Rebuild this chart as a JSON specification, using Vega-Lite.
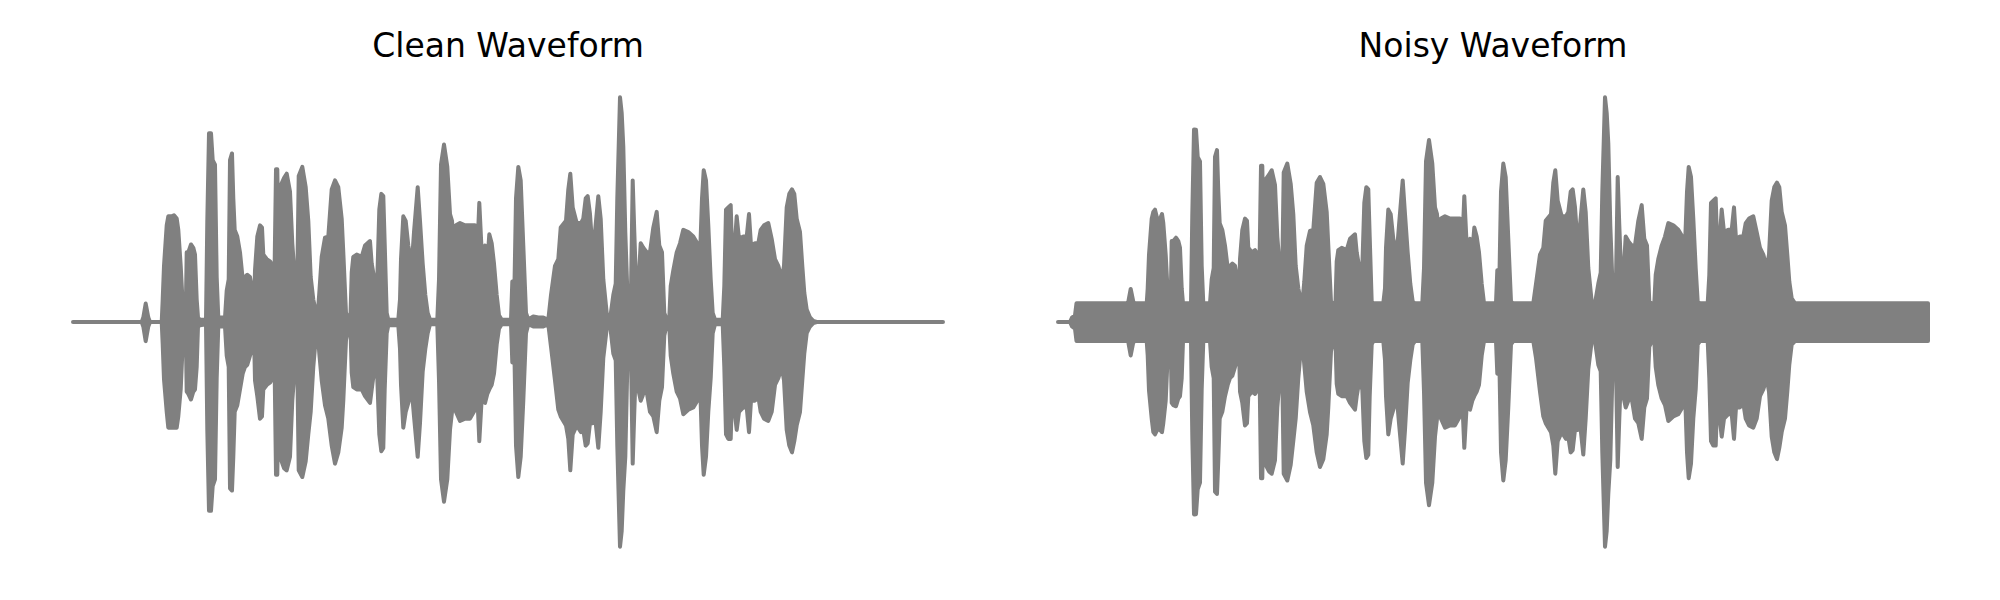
{
  "$schema": "https://vega.github.io/schema/vega-lite/v6.json",
  "background": "white",
  "padding": {"left": 71, "top": 31, "right": 0, "bottom": 0},
  "spacing": 111,
  "config": {
    "view": {"stroke": null},
    "title": {"font": "DejaVu Sans", "fontSize": 33, "fontWeight": "normal", "color": "#000000", "baseline": "alphabetic", "offset": 22}
  },
  "datasets": {
    "clean": [
      {"t":0,"hi":0,"lo":0},{"t":68.7,"hi":0,"lo":0},{"t":70.3,"hi":0.02,"lo":-0.02},{"t":72.7,"hi":0.082,"lo":-0.085},{"t":75.3,"hi":0.02,"lo":-0.02},{"t":77,"hi":0,"lo":0},{"t":88.7,"hi":0,"lo":0},
      {"t":89.7,"hi":0.1,"lo":-0.1},{"t":91,"hi":0.25,"lo":-0.255},{"t":93.7,"hi":0.43,"lo":-0.4},{"t":95.3,"hi":0.47,"lo":-0.47},{"t":98.7,"hi":0.47,"lo":-0.47},{"t":101,"hi":0.475,"lo":-0.47},{"t":103.7,"hi":0.46,"lo":-0.47},{"t":105.3,"hi":0.41,"lo":-0.42},{"t":107.7,"hi":0.25,"lo":-0.3},{"t":109.7,"hi":0.08,"lo":-0.1},
      {"t":111,"hi":0.02,"lo":-0.025},{"t":112.7,"hi":0.02,"lo":-0.02},{"t":113.7,"hi":0.31,"lo":-0.31},{"t":115.3,"hi":0.31,"lo":-0.32},{"t":118,"hi":0.345,"lo":-0.345},{"t":120.3,"hi":0.33,"lo":-0.31},{"t":122,"hi":0.3,"lo":-0.3},{"t":123.7,"hi":0.1,"lo":-0.2},{"t":125,"hi":0.02,"lo":-0.02},{"t":127,"hi":0.01,"lo":-0.015},{"t":133,"hi":0.01,"lo":-0.01},
      {"t":134.3,"hi":0.45,"lo":-0.48},{"t":136,"hi":0.84,"lo":-0.84},{"t":138,"hi":0.84,"lo":-0.84},{"t":139.7,"hi":0.72,"lo":-0.73},{"t":142,"hi":0.7,"lo":-0.7},{"t":143.7,"hi":0.2,"lo":-0.25},{"t":145.3,"hi":0.02,"lo":-0.02},{"t":152,"hi":0.02,"lo":-0.02},
      {"t":153.7,"hi":0.14,"lo":-0.15},{"t":155.7,"hi":0.19,"lo":-0.2},{"t":157,"hi":0.72,"lo":-0.74},{"t":159,"hi":0.75,"lo":-0.75},{"t":160.3,"hi":0.55,"lo":-0.6},{"t":161.7,"hi":0.41,"lo":-0.4},{"t":164.3,"hi":0.38,"lo":-0.37},{"t":167,"hi":0.31,"lo":-0.3},{"t":169.7,"hi":0.19,"lo":-0.23},{"t":172,"hi":0.2,"lo":-0.2},{"t":174.3,"hi":0.21,"lo":-0.19},{"t":177,"hi":0.2,"lo":-0.15},{"t":179.3,"hi":0.14,"lo":-0.12},{"t":181,"hi":0.05,"lo":-0.05},
      {"t":182,"hi":0.23,"lo":-0.26},{"t":184.3,"hi":0.38,"lo":-0.33},{"t":187,"hi":0.43,"lo":-0.43},{"t":189,"hi":0.42,"lo":-0.42},{"t":190.3,"hi":0.3,"lo":-0.3},{"t":193.7,"hi":0.28,"lo":-0.28},{"t":197,"hi":0.27,"lo":-0.27},{"t":199.7,"hi":0.25,"lo":-0.25},{"t":201.3,"hi":0.15,"lo":-0.1},
      {"t":203,"hi":0.68,"lo":-0.68},{"t":204.3,"hi":0.68,"lo":-0.68},{"t":205.7,"hi":0.3,"lo":-0.3},{"t":207,"hi":0.6,"lo":-0.6},{"t":211,"hi":0.64,"lo":-0.65},{"t":213.7,"hi":0.66,"lo":-0.66},{"t":217,"hi":0.58,"lo":-0.6},{"t":219.3,"hi":0.35,"lo":-0.35},{"t":222,"hi":0.18,"lo":-0.19},{"t":224.3,"hi":0.19,"lo":-0.19},
      {"t":225.7,"hi":0.65,"lo":-0.66},{"t":229.3,"hi":0.69,"lo":-0.69},{"t":232.7,"hi":0.6,"lo":-0.62},{"t":235.3,"hi":0.45,"lo":-0.5},{"t":237.7,"hi":0.2,"lo":-0.4},{"t":240.3,"hi":0.1,"lo":-0.2},{"t":243,"hi":0.04,"lo":-0.06},{"t":244.3,"hi":0.01,"lo":-0.02},
      {"t":246.3,"hi":0.13,"lo":-0.14},{"t":248.7,"hi":0.29,"lo":-0.26},{"t":252,"hi":0.375,"lo":-0.37},{"t":255.3,"hi":0.38,"lo":-0.43},{"t":258.7,"hi":0.59,"lo":-0.55},{"t":262,"hi":0.63,"lo":-0.63},{"t":265.3,"hi":0.6,"lo":-0.58},{"t":268.7,"hi":0.46,"lo":-0.47},{"t":270.3,"hi":0.31,"lo":-0.35},{"t":273,"hi":0.04,"lo":-0.08},{"t":275.3,"hi":0.02,"lo":-0.03},{"t":277.5,"hi":0.03,"lo":-0.03},
      {"t":278.7,"hi":0.22,"lo":-0.226},{"t":280.3,"hi":0.29,"lo":-0.29},{"t":283.7,"hi":0.3,"lo":-0.3},{"t":288.7,"hi":0.29,"lo":-0.3},{"t":292,"hi":0.34,"lo":-0.33},{"t":297,"hi":0.36,"lo":-0.36},{"t":298.7,"hi":0.26,"lo":-0.3},{"t":301,"hi":0.2,"lo":-0.22},{"t":304.3,"hi":0.19,"lo":-0.25},{"t":306.3,"hi":0.5,"lo":-0.5},{"t":308.3,"hi":0.57,"lo":-0.575},{"t":310.3,"hi":0.56,"lo":-0.56},{"t":311.7,"hi":0.35,"lo":-0.3},{"t":313.7,"hi":0.04,"lo":-0.05},{"t":315.3,"hi":0.01,"lo":-0.015},{"t":325.3,"hi":0.01,"lo":-0.015},
      {"t":327,"hi":0.1,"lo":-0.12},{"t":328,"hi":0.28,"lo":-0.28},{"t":330.3,"hi":0.47,"lo":-0.47},{"t":332.7,"hi":0.45,"lo":-0.4},{"t":335.3,"hi":0.34,"lo":-0.36},{"t":338.7,"hi":0.25,"lo":-0.3},{"t":341,"hi":0.4,"lo":-0.42},{"t":344.7,"hi":0.6,"lo":-0.6},{"t":347,"hi":0.45,"lo":-0.45},{"t":349.7,"hi":0.26,"lo":-0.22},{"t":352.3,"hi":0.12,"lo":-0.12},{"t":354.7,"hi":0.04,"lo":-0.05},{"t":357,"hi":0.01,"lo":-0.01},{"t":364.3,"hi":0.01,"lo":-0.01},
      {"t":366,"hi":0.19,"lo":-0.26},{"t":368,"hi":0.7,"lo":-0.7},{"t":371,"hi":0.79,"lo":-0.8},{"t":374.3,"hi":0.69,"lo":-0.7},{"t":377,"hi":0.48,"lo":-0.48},{"t":379,"hi":0.45,"lo":-0.4},{"t":381,"hi":0.34,"lo":-0.33},{"t":383,"hi":0.43,"lo":-0.4},{"t":387,"hi":0.44,"lo":-0.44},{"t":392,"hi":0.43,"lo":-0.43},{"t":397,"hi":0.43,"lo":-0.43},{"t":402,"hi":0.43,"lo":-0.39},{"t":404.3,"hi":0.31,"lo":-0.32},{"t":406.3,"hi":0.53,"lo":-0.53},{"t":408.7,"hi":0.31,"lo":-0.34},{"t":412,"hi":0.34,"lo":-0.36},{"t":414.3,"hi":0.26,"lo":-0.32},{"t":416.3,"hi":0.39,"lo":-0.3},{"t":418.7,"hi":0.35,"lo":-0.28},{"t":421,"hi":0.26,"lo":-0.23},{"t":423.7,"hi":0.12,"lo":-0.1},{"t":426,"hi":0.03,"lo":-0.03},{"t":428.7,"hi":0.01,"lo":-0.01},{"t":438,"hi":0.01,"lo":-0.01},
      {"t":439.3,"hi":0.18,"lo":-0.18},{"t":441.3,"hi":0.12,"lo":-0.11},{"t":443,"hi":0.55,"lo":-0.55},{"t":445.3,"hi":0.69,"lo":-0.69},{"t":447.7,"hi":0.63,"lo":-0.6},{"t":450.3,"hi":0.34,"lo":-0.35},{"t":453,"hi":0.04,"lo":-0.05},{"t":455.3,"hi":0.01,"lo":-0.01},{"t":460.3,"hi":0.025,"lo":-0.02},{"t":465.3,"hi":0.02,"lo":-0.02},{"t":470.3,"hi":0.02,"lo":-0.02},{"t":475.3,"hi":0.01,"lo":-0.01},
      {"t":478,"hi":0.12,"lo":-0.11},{"t":482,"hi":0.25,"lo":-0.26},{"t":485.3,"hi":0.28,"lo":-0.39},{"t":487.7,"hi":0.42,"lo":-0.42},{"t":493,"hi":0.45,"lo":-0.46},{"t":495.3,"hi":0.59,"lo":-0.52},{"t":497.3,"hi":0.66,"lo":-0.66},{"t":499.7,"hi":0.51,"lo":-0.5},{"t":503.7,"hi":0.44,"lo":-0.46},{"t":508,"hi":0.44,"lo":-0.49},{"t":510.3,"hi":0.46,"lo":-0.48},{"t":512.7,"hi":0.55,"lo":-0.55},{"t":514.7,"hi":0.56,"lo":-0.54},{"t":517,"hi":0.48,"lo":-0.45},{"t":519.7,"hi":0.31,"lo":-0.45},{"t":522,"hi":0.4,"lo":-0.42},{"t":525.3,"hi":0.56,"lo":-0.56},{"t":527.7,"hi":0.46,"lo":-0.4},{"t":530.3,"hi":0.19,"lo":-0.16},{"t":533.7,"hi":0.04,"lo":-0.03},{"t":537,"hi":0.01,"lo":-0.01},
      {"t":540.3,"hi":0.12,"lo":-0.14},{"t":542.7,"hi":0.17,"lo":-0.17},{"t":544.3,"hi":0.55,"lo":-0.55},{"t":547,"hi":1.0,"lo":-1.0},{"t":548.7,"hi":0.93,"lo":-0.93},{"t":550.3,"hi":0.78,"lo":-0.75},{"t":552.3,"hi":0.4,"lo":-0.6},{"t":554.3,"hi":0.14,"lo":-0.2},{"t":558,"hi":0.14,"lo":-0.15},{"t":559.7,"hi":0.63,"lo":-0.63},{"t":561.3,"hi":0.4,"lo":-0.4},{"t":563,"hi":0.18,"lo":-0.18},{"t":565.3,"hi":0.15,"lo":-0.3},
      {"t":567.7,"hi":0.35,"lo":-0.35},{"t":570.3,"hi":0.33,"lo":-0.32},{"t":573.7,"hi":0.31,"lo":-0.31},{"t":577,"hi":0.31,"lo":-0.4},{"t":580.3,"hi":0.42,"lo":-0.42},{"t":583.7,"hi":0.49,"lo":-0.49},{"t":586.3,"hi":0.34,"lo":-0.35},{"t":589,"hi":0.31,"lo":-0.29},{"t":591.3,"hi":0.04,"lo":-0.06},{"t":593.7,"hi":0.01,"lo":-0.01},{"t":596.3,"hi":0.02,"lo":-0.02},
      {"t":597.7,"hi":0.16,"lo":-0.15},{"t":600.3,"hi":0.23,"lo":-0.23},{"t":603.7,"hi":0.31,"lo":-0.31},{"t":607,"hi":0.35,"lo":-0.34},{"t":610.3,"hi":0.41,"lo":-0.41},{"t":615.3,"hi":0.4,"lo":-0.39},{"t":620.3,"hi":0.38,"lo":-0.38},{"t":624.3,"hi":0.35,"lo":-0.35},{"t":627,"hi":0.29,"lo":-0.26},{"t":629,"hi":0.55,"lo":-0.55},{"t":630.7,"hi":0.675,"lo":-0.68},{"t":633,"hi":0.63,"lo":-0.6},{"t":635.3,"hi":0.43,"lo":-0.4},{"t":637.7,"hi":0.19,"lo":-0.25},{"t":639.7,"hi":0.04,"lo":-0.05},{"t":642,"hi":0.01,"lo":-0.01},{"t":649.7,"hi":0.01,"lo":-0.01},
      {"t":651.3,"hi":0.16,"lo":-0.2},{"t":653,"hi":0.5,"lo":-0.5},{"t":655.3,"hi":0.51,"lo":-0.52},{"t":657.7,"hi":0.52,"lo":-0.52},{"t":659.7,"hi":0.22,"lo":-0.23},{"t":661.7,"hi":0.34,"lo":-0.4},{"t":663.7,"hi":0.47,"lo":-0.48},{"t":666,"hi":0.37,"lo":-0.4},{"t":670.3,"hi":0.38,"lo":-0.38},{"t":673.7,"hi":0.38,"lo":-0.38},{"t":676,"hi":0.48,"lo":-0.49},{"t":678,"hi":0.34,"lo":-0.35},{"t":682,"hi":0.35,"lo":-0.35},{"t":685.3,"hi":0.35,"lo":-0.33},{"t":687.7,"hi":0.41,"lo":-0.4},{"t":691,"hi":0.43,"lo":-0.43},{"t":695.3,"hi":0.44,"lo":-0.44},{"t":698.7,"hi":0.37,"lo":-0.4},{"t":702,"hi":0.28,"lo":-0.28},{"t":705.3,"hi":0.25,"lo":-0.25},{"t":708.7,"hi":0.19,"lo":-0.2},{"t":711,"hi":0.25,"lo":-0.26},{"t":713.7,"hi":0.51,"lo":-0.48},{"t":716.3,"hi":0.57,"lo":-0.55},{"t":719,"hi":0.59,"lo":-0.58},{"t":721.3,"hi":0.57,"lo":-0.53},{"t":723.7,"hi":0.46,"lo":-0.46},{"t":727,"hi":0.4,"lo":-0.4},{"t":729.3,"hi":0.25,"lo":-0.26},{"t":731.3,"hi":0.13,"lo":-0.14},{"t":733.7,"hi":0.055,"lo":-0.05},{"t":737,"hi":0.02,"lo":-0.02},{"t":740.3,"hi":0.005,"lo":-0.005},{"t":743.7,"hi":0,"lo":0},{"t":870,"hi":0,"lo":0}
    ],
    "noisy": [
      {"t":0,"hi":0,"lo":0},{"t":12,"hi":0,"lo":0},{"t":14,"hi":0.02,"lo":-0.02},{"t":17,"hi":0.03,"lo":-0.03},{"t":18.5,"hi":0.083,"lo":-0.085},{"t":68.7,"hi":0.083,"lo":-0.085},{"t":70.3,"hi":0.09,"lo":-0.09},{"t":72.7,"hi":0.147,"lo":-0.149},{"t":75.3,"hi":0.09,"lo":-0.09},{"t":77,"hi":0.083,"lo":-0.085},{"t":88.7,"hi":0.083,"lo":-0.085},
      {"t":89.7,"hi":0.15,"lo":-0.15},{"t":91,"hi":0.3,"lo":-0.305},{"t":93.7,"hi":0.46,"lo":-0.43},{"t":95.3,"hi":0.49,"lo":-0.49},{"t":97,"hi":0.5,"lo":-0.5},{"t":100.3,"hi":0.44,"lo":-0.47},{"t":104,"hi":0.48,"lo":-0.49},{"t":105.3,"hi":0.44,"lo":-0.45},{"t":107.7,"hi":0.3,"lo":-0.35},{"t":109.7,"hi":0.13,"lo":-0.15},
      {"t":111,"hi":0.083,"lo":-0.085},{"t":112.7,"hi":0.083,"lo":-0.085},{"t":113.7,"hi":0.36,"lo":-0.36},{"t":115.3,"hi":0.36,"lo":-0.37},{"t":118,"hi":0.375,"lo":-0.375},{"t":120.3,"hi":0.36,"lo":-0.34},{"t":122,"hi":0.33,"lo":-0.33},{"t":123.7,"hi":0.15,"lo":-0.25},{"t":125,"hi":0.083,"lo":-0.085},{"t":133,"hi":0.083,"lo":-0.085},
      {"t":134.3,"hi":0.48,"lo":-0.51},{"t":136,"hi":0.856,"lo":-0.856},{"t":138,"hi":0.855,"lo":-0.855},{"t":139.7,"hi":0.735,"lo":-0.745},{"t":142,"hi":0.715,"lo":-0.715},{"t":143.7,"hi":0.25,"lo":-0.3},{"t":145.3,"hi":0.083,"lo":-0.085},{"t":152,"hi":0.083,"lo":-0.085},
      {"t":153.7,"hi":0.19,"lo":-0.2},{"t":155.7,"hi":0.24,"lo":-0.25},{"t":157,"hi":0.735,"lo":-0.755},{"t":159,"hi":0.765,"lo":-0.765},{"t":160.3,"hi":0.58,"lo":-0.615},{"t":161.7,"hi":0.44,"lo":-0.43},{"t":164.3,"hi":0.41,"lo":-0.4},{"t":167,"hi":0.34,"lo":-0.33},{"t":169.7,"hi":0.24,"lo":-0.28},{"t":172,"hi":0.25,"lo":-0.25},{"t":174.3,"hi":0.26,"lo":-0.24},{"t":177,"hi":0.25,"lo":-0.2},{"t":179.3,"hi":0.19,"lo":-0.17},{"t":181,"hi":0.1,"lo":-0.1},
      {"t":182,"hi":0.28,"lo":-0.31},{"t":184.3,"hi":0.41,"lo":-0.36},{"t":187,"hi":0.46,"lo":-0.46},{"t":189,"hi":0.45,"lo":-0.45},{"t":190.3,"hi":0.33,"lo":-0.33},{"t":193.7,"hi":0.31,"lo":-0.31},{"t":197,"hi":0.32,"lo":-0.32},{"t":199.7,"hi":0.3,"lo":-0.3},{"t":201.3,"hi":0.2,"lo":-0.15},
      {"t":203,"hi":0.695,"lo":-0.695},{"t":204.3,"hi":0.695,"lo":-0.695},{"t":205.7,"hi":0.33,"lo":-0.33},{"t":207,"hi":0.63,"lo":-0.63},{"t":211,"hi":0.655,"lo":-0.665},{"t":213.7,"hi":0.675,"lo":-0.675},{"t":217,"hi":0.61,"lo":-0.615},{"t":219.3,"hi":0.38,"lo":-0.38},{"t":222,"hi":0.23,"lo":-0.24},{"t":224.3,"hi":0.24,"lo":-0.24},
      {"t":225.7,"hi":0.665,"lo":-0.675},{"t":229.3,"hi":0.705,"lo":-0.705},{"t":232.7,"hi":0.615,"lo":-0.635},{"t":235.3,"hi":0.48,"lo":-0.53},{"t":237.7,"hi":0.25,"lo":-0.43},{"t":240.3,"hi":0.15,"lo":-0.25},{"t":243,"hi":0.09,"lo":-0.11},{"t":244.3,"hi":0.083,"lo":-0.085},
      {"t":246.3,"hi":0.18,"lo":-0.19},{"t":248.7,"hi":0.34,"lo":-0.31},{"t":252,"hi":0.405,"lo":-0.4},{"t":255.3,"hi":0.41,"lo":-0.46},{"t":258.7,"hi":0.62,"lo":-0.58},{"t":262,"hi":0.645,"lo":-0.645},{"t":265.3,"hi":0.615,"lo":-0.61},{"t":268.7,"hi":0.49,"lo":-0.5},{"t":270.3,"hi":0.34,"lo":-0.38},{"t":273,"hi":0.09,"lo":-0.13},{"t":275.3,"hi":0.083,"lo":-0.085},{"t":277.5,"hi":0.083,"lo":-0.085},
      {"t":278.7,"hi":0.27,"lo":-0.276},{"t":280.3,"hi":0.32,"lo":-0.32},{"t":283.7,"hi":0.33,"lo":-0.33},{"t":288.7,"hi":0.32,"lo":-0.33},{"t":292,"hi":0.37,"lo":-0.36},{"t":297,"hi":0.39,"lo":-0.39},{"t":298.7,"hi":0.31,"lo":-0.33},{"t":301,"hi":0.25,"lo":-0.27},{"t":304.3,"hi":0.24,"lo":-0.3},{"t":306.3,"hi":0.53,"lo":-0.53},{"t":308.3,"hi":0.6,"lo":-0.605},{"t":310.3,"hi":0.59,"lo":-0.59},{"t":311.7,"hi":0.38,"lo":-0.33},{"t":313.7,"hi":0.09,"lo":-0.1},{"t":315.3,"hi":0.083,"lo":-0.085},{"t":325.3,"hi":0.083,"lo":-0.085},
      {"t":327,"hi":0.15,"lo":-0.17},{"t":328,"hi":0.33,"lo":-0.33},{"t":330.3,"hi":0.5,"lo":-0.5},{"t":332.7,"hi":0.48,"lo":-0.43},{"t":335.3,"hi":0.37,"lo":-0.39},{"t":338.7,"hi":0.3,"lo":-0.33},{"t":341,"hi":0.43,"lo":-0.45},{"t":344.7,"hi":0.63,"lo":-0.63},{"t":347,"hi":0.48,"lo":-0.48},{"t":349.7,"hi":0.31,"lo":-0.27},{"t":352.3,"hi":0.17,"lo":-0.17},{"t":354.7,"hi":0.09,"lo":-0.1},{"t":357,"hi":0.083,"lo":-0.085},{"t":364.3,"hi":0.083,"lo":-0.085},
      {"t":366,"hi":0.24,"lo":-0.31},{"t":368,"hi":0.715,"lo":-0.715},{"t":371,"hi":0.81,"lo":-0.815},{"t":374.3,"hi":0.705,"lo":-0.715},{"t":377,"hi":0.51,"lo":-0.51},{"t":379,"hi":0.48,"lo":-0.43},{"t":381,"hi":0.37,"lo":-0.36},{"t":383,"hi":0.46,"lo":-0.43},{"t":387,"hi":0.47,"lo":-0.47},{"t":392,"hi":0.46,"lo":-0.46},{"t":397,"hi":0.46,"lo":-0.46},{"t":402,"hi":0.46,"lo":-0.42},{"t":404.3,"hi":0.34,"lo":-0.35},{"t":406.3,"hi":0.56,"lo":-0.56},{"t":408.7,"hi":0.34,"lo":-0.37},{"t":412,"hi":0.37,"lo":-0.39},{"t":414.3,"hi":0.31,"lo":-0.35},{"t":416.3,"hi":0.42,"lo":-0.33},{"t":418.7,"hi":0.38,"lo":-0.31},{"t":421,"hi":0.31,"lo":-0.28},{"t":423.7,"hi":0.17,"lo":-0.15},{"t":426,"hi":0.083,"lo":-0.085},{"t":438,"hi":0.083,"lo":-0.085},
      {"t":439.3,"hi":0.23,"lo":-0.23},{"t":441.3,"hi":0.17,"lo":-0.16},{"t":443,"hi":0.58,"lo":-0.58},{"t":445.3,"hi":0.705,"lo":-0.705},{"t":447.7,"hi":0.645,"lo":-0.615},{"t":450.3,"hi":0.37,"lo":-0.38},{"t":453,"hi":0.09,"lo":-0.1},{"t":455.3,"hi":0.083,"lo":-0.085},{"t":475.3,"hi":0.083,"lo":-0.085},
      {"t":478,"hi":0.17,"lo":-0.16},{"t":482,"hi":0.3,"lo":-0.31},{"t":485.3,"hi":0.33,"lo":-0.42},{"t":487.7,"hi":0.45,"lo":-0.45},{"t":493,"hi":0.48,"lo":-0.49},{"t":495.3,"hi":0.62,"lo":-0.55},{"t":497.3,"hi":0.675,"lo":-0.675},{"t":499.7,"hi":0.54,"lo":-0.53},{"t":503.7,"hi":0.47,"lo":-0.49},{"t":508,"hi":0.47,"lo":-0.52},{"t":510.3,"hi":0.49,"lo":-0.51},{"t":512.7,"hi":0.58,"lo":-0.58},{"t":514.7,"hi":0.59,"lo":-0.57},{"t":517,"hi":0.51,"lo":-0.48},{"t":519.7,"hi":0.34,"lo":-0.48},{"t":522,"hi":0.43,"lo":-0.45},{"t":525.3,"hi":0.59,"lo":-0.59},{"t":527.7,"hi":0.49,"lo":-0.43},{"t":530.3,"hi":0.24,"lo":-0.21},{"t":533.7,"hi":0.09,"lo":-0.085},{"t":537,"hi":0.083,"lo":-0.085},
      {"t":540.3,"hi":0.17,"lo":-0.19},{"t":542.7,"hi":0.22,"lo":-0.22},{"t":544.3,"hi":0.58,"lo":-0.58},{"t":547,"hi":1.0,"lo":-1.0},{"t":548.7,"hi":0.93,"lo":-0.93},{"t":550.3,"hi":0.795,"lo":-0.765},{"t":552.3,"hi":0.43,"lo":-0.615},{"t":554.3,"hi":0.19,"lo":-0.25},{"t":558,"hi":0.19,"lo":-0.2},{"t":559.7,"hi":0.645,"lo":-0.645},{"t":561.3,"hi":0.43,"lo":-0.43},{"t":563,"hi":0.23,"lo":-0.23},{"t":565.3,"hi":0.2,"lo":-0.33},
      {"t":567.7,"hi":0.38,"lo":-0.38},{"t":570.3,"hi":0.36,"lo":-0.35},{"t":573.7,"hi":0.34,"lo":-0.34},{"t":577,"hi":0.34,"lo":-0.43},{"t":580.3,"hi":0.45,"lo":-0.45},{"t":583.7,"hi":0.52,"lo":-0.52},{"t":586.3,"hi":0.37,"lo":-0.38},{"t":589,"hi":0.34,"lo":-0.34},{"t":591.3,"hi":0.09,"lo":-0.11},{"t":593.7,"hi":0.083,"lo":-0.085},{"t":596.3,"hi":0.083,"lo":-0.085},
      {"t":597.7,"hi":0.21,"lo":-0.2},{"t":600.3,"hi":0.28,"lo":-0.28},{"t":603.7,"hi":0.34,"lo":-0.34},{"t":607,"hi":0.38,"lo":-0.37},{"t":610.3,"hi":0.44,"lo":-0.44},{"t":615.3,"hi":0.43,"lo":-0.42},{"t":620.3,"hi":0.41,"lo":-0.41},{"t":624.3,"hi":0.38,"lo":-0.38},{"t":627,"hi":0.34,"lo":-0.31},{"t":629,"hi":0.58,"lo":-0.58},{"t":630.7,"hi":0.69,"lo":-0.695},{"t":633,"hi":0.645,"lo":-0.63},{"t":635.3,"hi":0.46,"lo":-0.43},{"t":637.7,"hi":0.24,"lo":-0.3},{"t":639.7,"hi":0.09,"lo":-0.1},{"t":642,"hi":0.083,"lo":-0.085},{"t":649.7,"hi":0.083,"lo":-0.085},
      {"t":651.3,"hi":0.21,"lo":-0.25},{"t":653,"hi":0.53,"lo":-0.53},{"t":655.3,"hi":0.54,"lo":-0.55},{"t":657.7,"hi":0.55,"lo":-0.55},{"t":659.7,"hi":0.27,"lo":-0.28},{"t":661.7,"hi":0.37,"lo":-0.43},{"t":663.7,"hi":0.5,"lo":-0.51},{"t":666,"hi":0.4,"lo":-0.43},{"t":670.3,"hi":0.41,"lo":-0.41},{"t":673.7,"hi":0.41,"lo":-0.41},{"t":676,"hi":0.51,"lo":-0.52},{"t":678,"hi":0.37,"lo":-0.38},{"t":682,"hi":0.38,"lo":-0.38},{"t":685.3,"hi":0.38,"lo":-0.36},{"t":687.7,"hi":0.44,"lo":-0.43},{"t":691,"hi":0.46,"lo":-0.46},{"t":695.3,"hi":0.47,"lo":-0.47},{"t":698.7,"hi":0.4,"lo":-0.43},{"t":702,"hi":0.33,"lo":-0.33},{"t":705.3,"hi":0.3,"lo":-0.3},{"t":708.7,"hi":0.24,"lo":-0.25},{"t":711,"hi":0.3,"lo":-0.31},{"t":713.7,"hi":0.54,"lo":-0.51},{"t":716.3,"hi":0.6,"lo":-0.58},{"t":719,"hi":0.62,"lo":-0.61},{"t":721.3,"hi":0.6,"lo":-0.56},{"t":723.7,"hi":0.49,"lo":-0.49},{"t":727,"hi":0.43,"lo":-0.43},{"t":729.3,"hi":0.3,"lo":-0.31},{"t":731.3,"hi":0.18,"lo":-0.19},{"t":733.7,"hi":0.105,"lo":-0.1},{"t":737,"hi":0.083,"lo":-0.085},{"t":870,"hi":0.083,"lo":-0.085}
    ]
  },
  "hconcat": [
    {
      "title": "Clean Waveform",
      "width": 870,
      "height": 472,
      "data": {"name": "clean"},
      "mark": {"type": "area", "fill": "#808080", "stroke": "#808080", "strokeWidth": 4, "strokeJoin": "round", "strokeCap": "round", "interpolate": "linear"},
      "encoding": {
        "x": {"field": "t", "type": "quantitative", "scale": {"domain": [0, 870], "nice": false, "zero": false}, "axis": null},
        "y": {"field": "hi", "type": "quantitative", "scale": {"domain": [-1.05, 1.05], "nice": false, "zero": false}, "axis": null},
        "y2": {"field": "lo"}
      }
    },
    {
      "title": "Noisy Waveform",
      "width": 870,
      "height": 472,
      "data": {"name": "noisy"},
      "mark": {"type": "area", "fill": "#808080", "stroke": "#808080", "strokeWidth": 4, "strokeJoin": "round", "strokeCap": "round", "interpolate": "linear"},
      "encoding": {
        "x": {"field": "t", "type": "quantitative", "scale": {"domain": [0, 870], "nice": false, "zero": false}, "axis": null},
        "y": {"field": "hi", "type": "quantitative", "scale": {"domain": [-1.05, 1.05], "nice": false, "zero": false}, "axis": null},
        "y2": {"field": "lo"}
      }
    }
  ]
}
